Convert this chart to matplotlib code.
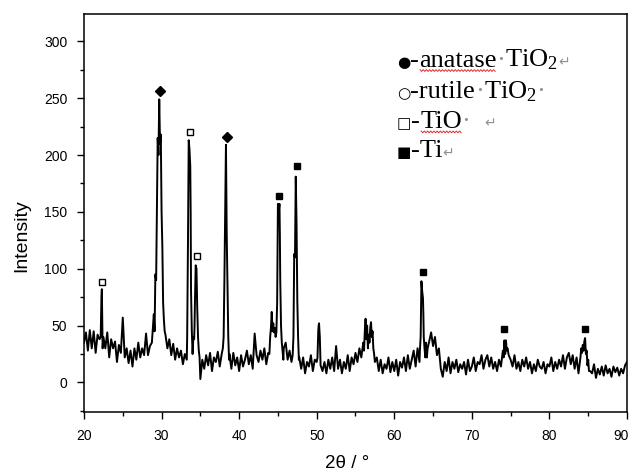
"""XRD pattern of the TiO2 / TiO / Ti sample."""

import numpy as np
import matplotlib
matplotlib.use("Agg")
import matplotlib.pyplot as plt
from matplotlib.lines import Line2D
from matplotlib.transforms import IdentityTransform, ScaledTranslation
from matplotlib.ticker import MultipleLocator


# =========================================================
# Data
# =========================================================
# scan every 0.25 deg from 20 to 90 (4 values per degree)
scan_start = 20.0
scan_step = 0.25
scan_counts = [
    35, 44, 28, 46,   # 20
    30, 45, 26, 42,   # 21
    38, 75, 40, 30,   # 22
    44, 22, 38, 30,   # 23
    36, 18, 33, 26,   # 24
    57, 22, 30, 17,   # 25
    28, 14, 30, 20,   # 26
    35, 22, 30, 24,   # 27
    43, 24, 32, 35,   # 28
    60, 92, 215, 230,  # 29
    150, 62, 42, 30,  # 30
    38, 24, 34, 20,   # 31
    30, 22, 28, 16,   # 32
    25, 20, 213, 150,  # 33
    25, 50, 100, 34,  # 34
    3, 20, 12, 24,    # 35
    15, 26, 10, 22,   # 36
    18, 27, 14, 25,   # 37
    40, 180, 82, 25,  # 38
    12, 26, 15, 22,   # 39
    10, 24, 14, 20,   # 40
    28, 16, 24, 12,   # 41
    43, 24, 18, 28,   # 42
    20, 30, 16, 26,   # 43
    40, 55, 44, 42,   # 44
    157, 130, 35, 30,  # 45
    35, 20, 28, 18,   # 46
    40, 150, 72, 22,  # 47
    12, 22, 8, 18,    # 48
    14, 24, 10, 20,   # 49
    18, 50, 15, 10,   # 50
    18, 8, 20, 12,    # 51
    22, 10, 32, 12,   # 52
    20, 8, 18, 12,    # 53
    24, 10, 22, 16,   # 54
    26, 18, 30, 22,   # 55
    35, 50, 50, 40,   # 56
    53, 38, 18, 22,   # 57
    10, 20, 8, 16,    # 58
    12, 22, 9, 18,    # 59
    10, 20, 6, 18,    # 60
    13, 22, 10, 24,   # 61
    12, 20, 28, 14,   # 62
    30, 18, 89, 60,   # 63
    22, 26, 36, 44,   # 64
    32, 40, 24, 30,   # 65
    12, 5, 18, 10,    # 66
    22, 8, 18, 12,    # 67
    20, 9, 16, 12,    # 68
    18, 7, 20, 10,    # 69
    14, 22, 10, 18,   # 70
    16, 24, 12, 20,   # 71
    24, 14, 22, 12,   # 72
    18, 10, 20, 14,   # 73
    28, 30, 28, 24,   # 74
    20, 14, 24, 12,   # 75
    18, 10, 20, 14,   # 76
    22, 12, 18, 8,    # 77
    16, 10, 20, 14,   # 78
    12, 18, 8, 16,    # 79
    14, 22, 10, 18,   # 80
    12, 20, 14, 24,   # 81
    12, 22, 26, 16,   # 82
    24, 12, 22, 8,    # 83
    22, 28, 36, 26,   # 84
    20, 10, 8, 16,    # 85
    4, 12, 7, 14,     # 86
    6, 15, 8, 12,     # 87
    5, 14, 9, 13,     # 88
    6, 12, 8, 15,     # 89
    18,               # 90
]

# extra points read around the sharp reflections
peak_x = [22.15, 22.2, 22.3, 22.4,
          29.1, 29.2, 29.3, 29.4, 29.6, 29.7, 29.8, 29.9, 30.1, 30.2, 30.3, 30.4,
          33.3, 33.4, 33.6, 33.7, 33.8, 33.9, 34.1, 34.2, 34.3, 34.4, 34.6, 34.7, 34.8, 34.9,
          37.9, 38.1, 38.2, 38.3, 38.4, 38.6, 38.7,
          43.9, 44.1, 44.2, 44.3, 44.4, 44.6, 44.7, 44.8, 44.9, 45.1, 45.2, 45.3, 45.4, 45.6, 45.7,
          46.9, 47.1, 47.2, 47.3, 47.4, 47.6, 47.7,
          50.1, 50.2, 50.3, 50.4,
          56.1, 56.2, 56.3, 56.4, 56.6, 56.7, 56.8, 56.9, 57.1, 57.2, 57.3, 57.4,
          63.3, 63.4, 63.6, 63.7, 63.8, 63.9, 64.1, 64.2, 64.3,
          74.1, 74.2, 74.3, 74.4, 74.6,
          84.1, 84.2, 84.3, 84.4, 84.6, 84.7, 84.8, 84.9, 85.1]
peak_y = [40, 60, 82, 30,
          45, 95, 90, 150, 200, 249, 210, 218, 120, 70, 55, 45,
          40, 120, 205, 190, 80, 45, 40, 38, 70, 103, 65, 40, 28, 22,
          30, 90, 150, 209, 130, 40, 20,
          25, 48, 62, 45, 52, 48, 40, 44, 70, 150, 157, 90, 50, 28, 20,
          24, 113, 110, 181, 140, 40, 20,
          22, 45, 52, 40,
          28, 45, 56, 38, 30, 42, 35, 48, 40, 45, 30, 25,
          28, 40, 80, 74, 40, 30, 35, 22, 30,
          22, 37, 25, 37, 30,
          30, 26, 33, 28, 39, 25, 28, 15, 10]

# phase symbols placed over the peaks
anatase_x = [29.79, 38.38]
anatase_y = [256, 216]
tio_x = [22.34, 33.69, 34.58]
tio_y = [88, 220, 111]
ti_x = [45.09, 47.43, 63.73, 74.19, 84.6]
ti_y = [164, 190, 97, 47, 47]

x_ticks = [20, 30, 40, 50, 60, 70, 80, 90]
y_ticks = [0, 50, 100, 150, 200, 250, 300]

assert len(scan_counts) == 281 and len(peak_x) == len(peak_y)


# =========================================================
# Figure
# =========================================================
plt.rcParams["mathtext.fontset"] = "custom"
plt.rcParams["mathtext.rm"] = "Liberation Serif"
plt.rcParams["mathtext.it"] = "Liberation Serif:italic"

fig = plt.figure(figsize=(6.33, 4.72), dpi=100)
ax = fig.add_axes([0.1327, 0.1271, 0.8578, 0.8432])

grid_x = scan_start + scan_step * np.arange(len(scan_counts))
two_theta = np.concatenate([grid_x, peak_x])
counts = np.concatenate([scan_counts, peak_y])
order = np.argsort(two_theta, kind="stable")
ax.plot(two_theta[order], counts[order], color="black", lw=1.4)

ax.plot(anatase_x, anatase_y, ls="none", marker="D", ms=5, color="black")
ax.plot(tio_x, tio_y, ls="none", marker="s", ms=5, mfc="white", mec="black", mew=1.0)
ax.plot(ti_x, ti_y, ls="none", marker="s", ms=5, color="black")

ax.set_xlim(20, 90)
ax.set_ylim(-26, 324)
ax.set_xticks(x_ticks)
ax.set_yticks(y_ticks)
ax.xaxis.set_minor_locator(MultipleLocator(5))
ax.yaxis.set_minor_locator(MultipleLocator(25))
ax.tick_params(which="major", direction="out", length=5, width=1, pad=7,
               labelsize=10)
ax.tick_params(which="minor", direction="out", length=3, width=1)
for lab in ax.get_xticklabels() + ax.get_yticklabels():
    lab.set_family("Liberation Sans")
# the last x label sits on the figure edge; nudge it inside
last = ax.get_xticklabels()[-1]
last.set_transform(last.get_transform()
                   + ScaledTranslation(-4 / 72, 0, fig.dpi_scale_trans))
for sp in ax.spines.values():
    sp.set_linewidth(1.1)

fig.text(0.035, 0.50, "Intensity", rotation=90, ha="center", va="center",
         family="Liberation Sans", fontsize=14)
fig.text(0.548, 0.019, "2θ / °", ha="center", va="center",
         family="Liberation Sans", fontsize=13.5)


# =========================================================
# Pasted-in legend (Word text with return marks)
# =========================================================
renderer = fig.canvas.get_renderer()
SERIF = ["Liberation Serif", "DejaVu Sans"]
SYM = ["DejaVu Sans"]


def put_line(x, y, pieces):
    for text, color, fam, size, wavy in pieces:
        t = fig.text(x, y, text, color=color, family=fam, fontsize=size,
                     ha="left", va="baseline")
        bb = t.get_window_extent(renderer)
        if wavy:
            xs = np.arange(bb.x0 + 1, bb.x1, 1.6)
            base = y * fig.bbox.height - 4
            ys = base + np.where(np.arange(len(xs)) % 2 == 0, 0.9, -0.9)
            fig.add_artist(Line2D(xs, ys, color="#e03030", lw=0.7,
                                  transform=IdentityTransform()))
        x += bb.width / fig.bbox.width


size = 19
grey = "#909090"
put_line(0.627, 0.859, [("●", "black", SYM, 11, False),
                        ("-", "black", SERIF, size, False),
                        ("anatase", "black", SERIF, size, True),
                        ("·", grey, SERIF, size, False),
                        ("TiO$_2$", "black", SERIF, size, False),
                        ("↵", grey, SYM, 10, False)])
put_line(0.627, 0.792, [("○", "black", SYM, 11, False),
                        ("-rutile", "black", SERIF, size, False),
                        ("·", grey, SERIF, size, False),
                        ("TiO$_2$", "black", SERIF, size, False),
                        ("·", grey, SERIF, size, False)])
put_line(0.627, 0.729, [("□", "black", SYM, 11, False),
                        ("-", "black", SERIF, size, False),
                        ("TiO", "black", SERIF, size, True),
                        ("·  ", grey, SERIF, size, False),
                        ("↵", grey, SYM, 10, False)])
put_line(0.627, 0.667, [("■", "black", SYM, 11, False),
                        ("-Ti", "black", SERIF, size, False),
                        ("↵", grey, SYM, 10, False)])

fig.savefig("out.png", dpi=100)
plt.close(fig)
